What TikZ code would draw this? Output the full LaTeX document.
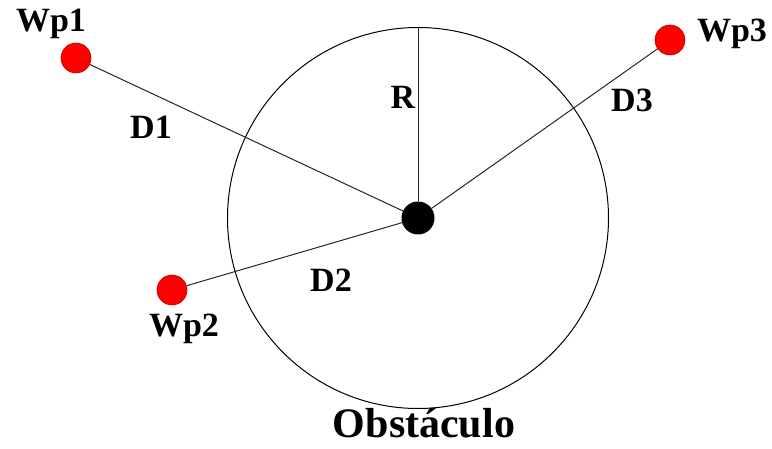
\documentclass[tikz,border=0pt]{standalone}
\usepackage{fontspec}
\setmainfont{Liberation Serif}
\usepackage{tikz}
\usetikzlibrary{shapes.geometric}
\tikzstyle{waypoint} = [
    circle,
    minimum size=30pt,
    inner sep=0pt,
    fill=red,
    draw=red!70!black,
    line width=0.6pt
]
\tikzstyle{centre} = [
    circle,
    minimum size=33pt,
    inner sep=0pt,
    fill=black
]
\tikzstyle{obstacle} = [
    circle,
    minimum size=381pt,
    inner sep=0pt,
    draw=black,
    line width=1pt
]
\tikzstyle{label} = [
    anchor=base,
    inner sep=0pt,
    font=\fontsize{34}{38}\selectfont\bfseries
]
\tikzstyle{link} = [line width=1pt, black!85]

\begin{document}
\begin{tikzpicture}[x=1pt, y=-1pt]
\useasboundingbox (0,0) rectangle (772,449);

\node (obs) [obstacle] at (418,218) {};
\node (c) [centre] at (418,218) {};

\node (wp1) [waypoint] at (76,58) {};
\node (wp2) [waypoint] at (172,290) {};
\node (wp3) [waypoint] at (670,40) {};

\node (lwp1) [label] at (51,32) {Wp1};
\node (lwp2) [label] at (184,337) {Wp2};
\node (lwp3) [label] at (732,42) {Wp3};

\node (ld1) [label] at (151,139) {D1};
\node (ld2) [label] at (331,292) {D2};
\node (ld3) [label] at (632,112) {D3};
\node (lr) [label] at (403,109) {R};

\node (lobs) [label, font=\fontsize{42}{46}\selectfont\bfseries] at (424,438) {Obstáculo};

\draw [link] (wp1) -- (c);
\draw [link] (wp2) -- (c);
\draw [link] (wp3) -- (c);
\draw [link] (c) -- (obs.north);

\end{tikzpicture}
\end{document}
